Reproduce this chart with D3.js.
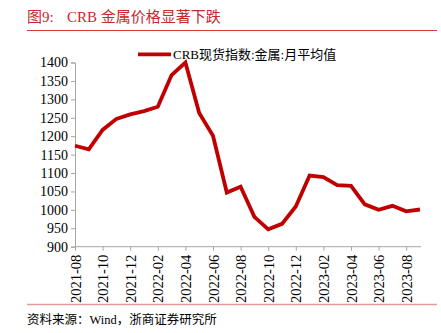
<!DOCTYPE html>
<html><head><meta charset="utf-8">
<script src="https://cdn.jsdelivr.net/npm/d3@7"></script>
<style>
body{margin:0;background:#fff;}
svg text{font-family:"Liberation Serif","Times New Roman","Noto Sans CJK SC",serif;}
</style>
</head><body>
<svg id="c" width="441" height="333"></svg>
<script>
const months = ["2021-08","2021-09","2021-10","2021-11","2021-12","2022-01","2022-02","2022-03","2022-04","2022-05","2022-06","2022-07","2022-08","2022-09","2022-10","2022-11","2022-12","2023-01","2023-02","2023-03","2023-04","2023-05","2023-06","2023-07","2023-08","2023-09"];
const values = [1174,1164,1217,1247,1259,1268,1280,1366,1400,1263,1201,1047,1063,981,947,962,1009,1093,1089,1067,1065,1015,1000,1011,996,1001];
const tickLabels = ["2021-08","2021-10","2021-12","2022-02","2022-04","2022-06","2022-08","2022-10","2022-12","2023-02","2023-04","2023-06","2023-08"];
const yTicks = [900,950,1000,1050,1100,1150,1200,1250,1300,1350,1400];
const seriesName = "CRB现货指数:金属:月平均值";
const titleNum = "图9:";
const titleText = "CRB 金属价格显著下跌";
const source = "资料来源：Wind，浙商证券研究所";

const svg = d3.select("#c");
const x = d3.scalePoint().domain(months).range([75, 420]);
const y = d3.scaleLinear().domain([900, 1400]).range([246.7, 62.5]);

// title
const t = svg.append("text").attr("y", 22).attr("fill", "#c8282e").style("font-size", "15px");
t.append("tspan").attr("x", 27).text(titleNum);
t.append("tspan").attr("x", 67).text(titleText);
svg.append("line").attr("x1", 27).attr("x2", 437).attr("y1", 30.5).attr("y2", 30.5)
  .attr("stroke", "#d43a3a").attr("stroke-width", 1.2);

// y axis
const gy = svg.append("g").attr("transform", "translate(75,0)")
  .call(d3.axisLeft(y).tickValues(yTicks).tickSize(4).tickPadding(3).tickFormat(d3.format("d")));
gy.select(".domain").attr("stroke", "#a6a6a6");
gy.selectAll(".tick line").attr("stroke", "#a6a6a6");
gy.selectAll("text").style("font-size", "14px").attr("fill", "#000");

// x axis
const gx = svg.append("g").attr("transform", "translate(0,246.7)")
  .call(d3.axisBottom(x).tickValues(tickLabels).tickSize(4).tickSizeOuter(0));
gx.select(".domain").attr("stroke", "#a6a6a6").attr("d", "M75,0H421");
gx.selectAll(".tick line").attr("stroke", "#a6a6a6");
gx.selectAll("text").style("font-size", "14.5px").attr("fill", "#000")
  .attr("transform", "rotate(-90)").attr("text-anchor", "end")
  .attr("x", -8).attr("y", 0).attr("dy", "0.35em");

// line
svg.append("path").datum(values.map((v, i) => [months[i], v]))
  .attr("fill", "none").attr("stroke", "#c00000").attr("stroke-width", 3.8)
  .attr("stroke-linejoin", "miter")
  .attr("d", d3.line().x(d => x(d[0])).y(d => y(d[1])));

// legend
svg.append("line").attr("x1", 138).attr("x2", 171).attr("y1", 54.3).attr("y2", 54.3)
  .attr("stroke", "#c00000").attr("stroke-width", 3.8);
svg.append("text").attr("x", 173).attr("y", 58.5).attr("fill", "#000")
  .style("font-size", "13px").text(seriesName);

// bottom rule and source
svg.append("line").attr("x1", 27).attr("x2", 437).attr("y1", 304.5).attr("y2", 304.5)
  .attr("stroke", "#e39a9a").attr("stroke-width", 1.5);
svg.append("text").attr("x", 27).attr("y", 324).attr("fill", "#000")
  .style("font-size", "12.5px").text(source);
</script>
</body></html>
